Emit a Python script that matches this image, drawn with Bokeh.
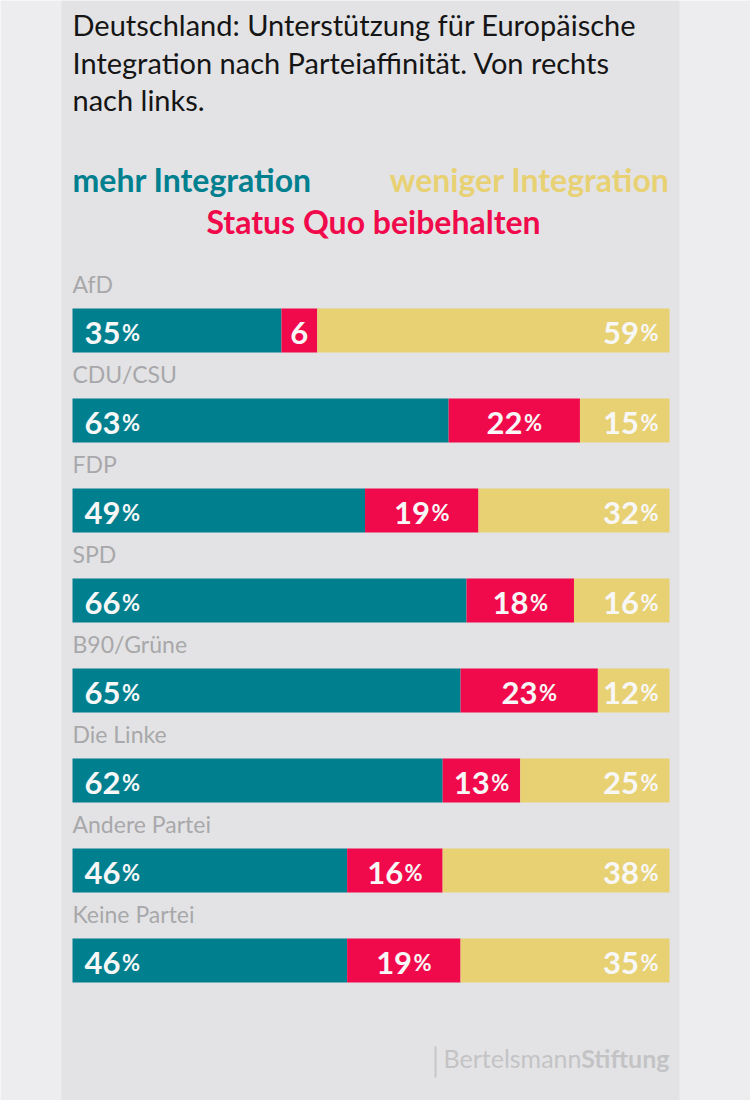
from bokeh.plotting import figure
from bokeh.models import ColumnDataSource, Range1d, BoxAnnotation
from bokeh.core.properties import value
from bokeh.embed import file_html
from bokeh.resources import INLINE

# ---- data ----
parties = ["AfD", "CDU/CSU", "FDP", "SPD", "B90/Grüne", "Die Linke", "Andere Partei", "Keine Partei"]
mehr = [35, 63, 49, 66, 65, 62, 46, 46]
status = [6, 22, 19, 18, 23, 13, 16, 19]
weniger = [59, 15, 32, 16, 12, 25, 38, 35]
pct_shown = {(0, "status"): False}

title_lines = ["Deutschland: Unterstützung für Europäische",
               "Integration nach Parteiaffinität. Von rechts",
               "nach links."]
leg_mehr = "mehr Integration"
leg_weniger = "weniger Integration"
leg_status = "Status Quo beibehalten"

TEAL = "#007f8f"
RED = "#f10a4b"
YELLOW = "#e8d173"
W, H = 750, 1100
PX_PER_PCT = 5.97
X0 = 72
ROW0 = 330
PITCH = 90
BAR_H = 44
SHIFT = 11  # correction for rendered alphabetic baseline

FONT = value("Lato")

x_range = Range1d(-X0 / PX_PER_PCT, (W - X0) / PX_PER_PCT)
y_range = Range1d((H - ROW0) / PITCH, -ROW0 / PITCH)


def ypx(pix):
    return (pix - SHIFT - ROW0) / PITCH


def xpx(pix):
    return (pix - X0) / PX_PER_PCT


p = figure(width=W, height=H, x_range=x_range, y_range=y_range,
           output_backend="svg", toolbar_location=None,
           min_border=0, min_border_left=0, min_border_right=0,
           min_border_top=0, min_border_bottom=0)
p.axis.visible = False
p.grid.visible = False
p.outline_line_color = None
p.background_fill_color = "#ededef"
p.border_fill_color = "#ededef"

# central panel
p.add_layout(BoxAnnotation(left=xpx(61), right=xpx(679), fill_color="#e3e3e5",
                           fill_alpha=1, line_color=None, level="underlay"))

rows = list(range(len(parties)))
src = ColumnDataSource(dict(row=rows, party=parties, mehr=mehr, status=status, weniger=weniger))
p.hbar_stack(["mehr", "status", "weniger"], y="row", height=BAR_H / PITCH,
             color=[TEAL, RED, YELLOW], line_color=None, source=src)

# party labels
p.text(x=[0] * len(rows), y=[r - (BAR_H / 2 + 14 + SHIFT) / PITCH for r in rows], text=parties,
       text_font=FONT, text_font_size="23px", text_color="#a8a8aa",
       text_baseline="alphabetic", text_align="left")

# value labels
DIG = 18.2
PCTW = 18
nx, ny, nt, nof = [], [], [], []
px_, py_, pof = [], [], []
for i in rows:
    segs = [("mehr", mehr[i], 0, "left"),
            ("status", status[i], mehr[i] + status[i] / 2, "center"),
            ("weniger", weniger[i], 100, "right")]
    for key, v, anchor, mode in segs:
        show = pct_shown.get((i, key), True)
        nw = len(str(v)) * DIG
        total = nw + (1 + PCTW if show else 0)
        if mode == "left":
            start = 12
        elif mode == "center":
            start = -total / 2
        else:
            start = -11 - total
        y = i + (13 - SHIFT) / PITCH
        nx.append(anchor); ny.append(y); nt.append(str(v)); nof.append(start)
        if show:
            px_.append(anchor); py_.append(y); pof.append(start + nw + 1)

p.text(x="x", y="y", text="t", x_offset="o",
       source=ColumnDataSource(dict(x=nx, y=ny, t=nt, o=nof)),
       text_font=FONT, text_font_style="bold", text_font_size="31px",
       text_color="#f7f7f7", text_baseline="alphabetic", text_align="left")
p.text(x="x", y="y", text="t", x_offset="o",
       source=ColumnDataSource(dict(x=px_, y=py_, t=["%"] * len(px_), o=pof)),
       text_font=FONT, text_font_style="bold", text_font_size="22px",
       text_color="#f7f7f7", text_baseline="alphabetic", text_align="left")

# title
p.text(x=[xpx(72)] * 3, y=[ypx(35), ypx(73), ypx(110)], text=title_lines,
       text_font=FONT, text_font_size="29px", text_color="#151515",
       text_baseline="alphabetic", text_align="left")

# legend texts
p.text(x=[xpx(72)], y=[ypx(190)], text=[leg_mehr], text_font=FONT, text_font_style="bold",
       text_font_size="32px", text_color=TEAL, text_baseline="alphabetic", text_align="left")
p.text(x=[xpx(669)], y=[ypx(190)], text=[leg_weniger], text_font=FONT, text_font_style="bold",
       text_font_size="32px", text_color=YELLOW, text_baseline="alphabetic", text_align="right")
p.text(x=[xpx(373)], y=[ypx(232)], text=[leg_status], text_font=FONT, text_font_style="bold",
       text_font_size="32px", text_color=RED, text_baseline="alphabetic", text_align="center")

# footer
p.segment(x0=[xpx(435)], y0=[(1046 - ROW0) / PITCH], x1=[xpx(435)], y1=[(1077 - ROW0) / PITCH],
          line_color="#c6c6c8", line_width=2)
p.text(x=[xpx(669)], y=[ypx(1068)], text=["Stiftung"], text_font=FONT, text_font_style="bold",
       text_font_size="25px", text_color="#c3c3c5", text_baseline="alphabetic", text_align="right")
p.text(x=[xpx(581)], y=[ypx(1068)], text=["Bertelsmann"], text_font=FONT,
       text_font_size="25px", text_color="#c3c3c5", text_baseline="alphabetic", text_align="right")

open("out.html", "w").write(file_html(p, INLINE))
